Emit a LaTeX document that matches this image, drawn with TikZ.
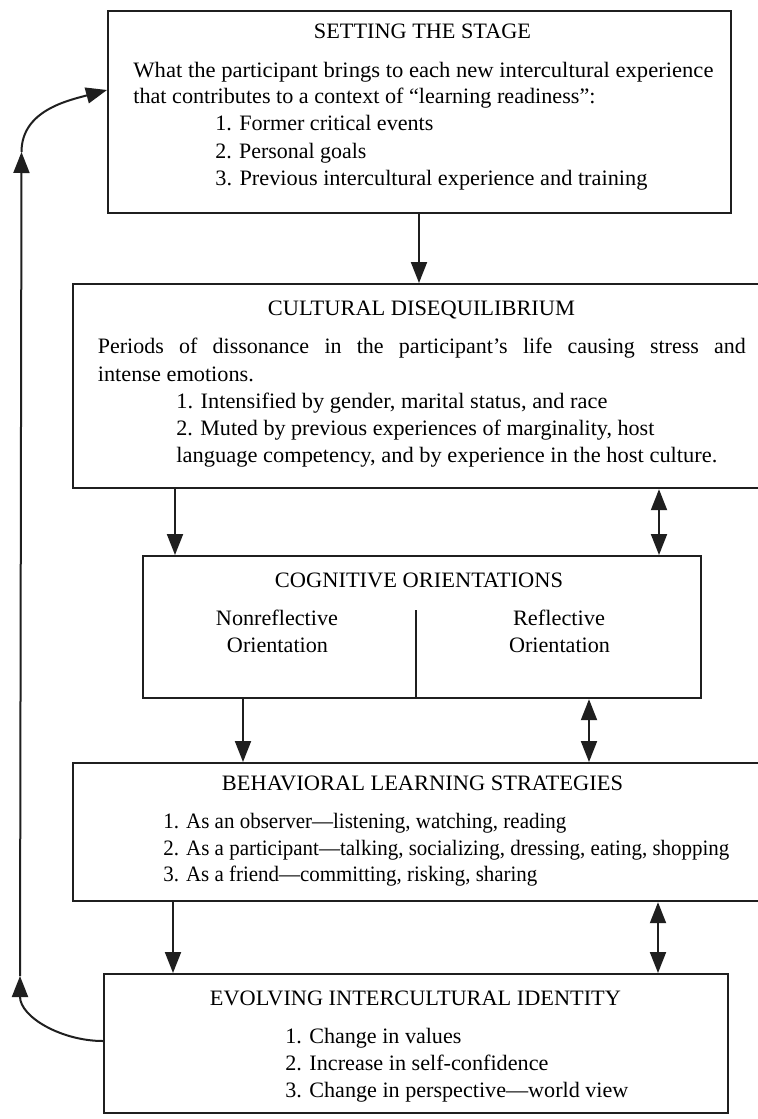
\documentclass[tikz,border=0pt]{standalone}
\usepackage{fontspec}
\usepackage{graphicx}
\setmainfont{Liberation Serif}
\usetikzlibrary{arrows.meta}
\newcommand{\fw}[2]{\resizebox{#1}{\height}{#2}}
\begin{document}
\begin{tikzpicture}[x=0.5pt,y=-0.5pt,
  box/.style={draw=black!88, line width=1.1pt, rectangle, inner sep=0pt, anchor=north west},
  txt/.style={inner sep=0pt, font=\fontsize{11}{13}\selectfont, text height=8pt, text depth=2.5pt, anchor=west},
  ttl/.style={inner sep=0pt, font=\fontsize{11}{13}\selectfont, text height=8pt, text depth=2.5pt},
  arr/.style={draw=black!88, line width=1pt, -{Triangle[length=10.5pt,width=8pt]}},
  darr/.style={draw=black!88, line width=1pt, {Triangle[length=10.5pt,width=8pt]}-{Triangle[length=10.5pt,width=8pt]}},
  divider/.style={draw=black!88, line width=1pt}]
\useasboundingbox (0,0) rectangle (758,1119);
\fill[white] (0,0) rectangle (758,1119);

% boxes
\node[box, minimum width=311.5pt, minimum height=101pt] (box1) at (107,10) {};
\node[box, minimum width=346.5pt, minimum height=102pt] (box2) at (72,283) {};
\node[box, minimum width=279.25pt, minimum height=71pt] (box3) at (141.5,555) {};
\node[box, minimum width=346.5pt, minimum height=69pt] (box4) at (72,762) {};
\node[box, minimum width=312pt, minimum height=69.5pt] (box5) at (103,973) {};

% box 1 text
\node[ttl] (t1) at (422.5,33) {\fw{108.5pt}{SETTING THE STAGE}};
\node[txt] (t1a) at (133,72) {\fw{290pt}{What the participant brings to each new intercultural experience}};
\node[txt] (t1b) at (133,98) {\fw{231pt}{that contributes to a context of “learning readiness”:}};
\node[txt] (t1c) at (215,125) {\fw{109pt}{1. Former critical events}};
\node[txt] (t1d) at (215,153) {\fw{75.5pt}{2. Personal goals}};
\node[txt] (t1e) at (215,180) {\fw{216pt}{3. Previous intercultural experience and training}};

% box 2 text
\node[ttl] (t2) at (421.5,310) {\fw{153.5pt}{CULTURAL DISEQUILIBRIUM}};
\node[txt] (t2a) at (97.5,348) {\makebox[324pt][s]{Periods of dissonance in the participant’s life causing stress and}};
\node[txt] (t2b) at (97.5,376) {\fw{78pt}{intense emotions.}};
\node[txt] (t2c) at (176,403) {\fw{215.5pt}{1. Intensified by gender, marital status, and race}};
\node[txt] (t2d) at (176,430) {\fw{239pt}{2. Muted by previous experiences of marginality, host}};
\node[txt] (t2e) at (176,457) {\fw{270.5pt}{language competency, and by experience in the host culture.}};

% box 3 text
\node[ttl] (t3) at (419,582) {\fw{144pt}{COGNITIVE ORIENTATIONS}};
\node[ttl] (t3a) at (277,620) {\fw{61pt}{Nonreflective}};
\node[ttl] (t3b) at (277.5,647) {\fw{50.5pt}{Orientation}};
\node[ttl] (t3c) at (559,620) {\fw{46pt}{Reflective}};
\node[ttl] (t3d) at (559.5,647) {\fw{50.5pt}{Orientation}};
\coordinate (dv) at (415.5,610);
\draw[divider] (dv) -- (dv |- box3.south);

% box 4 text
\node[ttl] (t4) at (422.5,785) {\fw{200.5pt}{BEHAVIORAL LEARNING STRATEGIES}};
\node[txt] (t4a) at (163,823) {\fw{201.5pt}{1. As an observer—listening, watching, reading}};
\node[txt] (t4b) at (163,850) {\fw{283pt}{2. As a participant—talking, socializing, dressing, eating, shopping}};
\node[txt] (t4c) at (163,876) {\fw{187pt}{3. As a friend—committing, risking, sharing}};

% box 5 text
\node[ttl] (t5) at (415.5,1000) {\fw{205.5pt}{EVOLVING INTERCULTURAL IDENTITY}};
\node[txt] (t5a) at (285,1038) {\fw{88pt}{1. Change in values}};
\node[txt] (t5b) at (285,1065) {\fw{131.5pt}{2. Increase in self-confidence}};
\node[txt] (t5c) at (285,1092) {\fw{171.5pt}{3. Change in perspective—world view}};

% connectors
\coordinate (x1) at (419,0);
\coordinate (x2) at (175,0);
\coordinate (x3) at (659,0);
\coordinate (x4) at (243,0);
\coordinate (x5) at (589,0);
\coordinate (x6) at (173,0);
\coordinate (x7) at (658,0);
\draw[arr] (box1.south -| x1) -- (box2.north -| x1);
\draw[arr] (box2.south -| x2) -- (box3.north -| x2);
\draw[darr] (box2.south -| x3) -- (box3.north -| x3);
\draw[arr] (box3.south -| x4) -- (box4.north -| x4);
\draw[darr] (box3.south -| x5) -- (box4.north -| x5);
\draw[arr] (box4.south -| x6) -- (box5.north -| x6);
\draw[darr] (box4.south -| x7) -- (box5.north -| x7);

% feedback loop
\coordinate (ls) at (103,1041);
\coordinate (l1) at (20,976);
\coordinate (l2) at (21.5,152);
\coordinate (le) at (107,90);
\draw[arr] (box5.west |- ls) to[out=180,in=-90] (l1);
\draw[arr] (l1) -- (l2);
\draw[arr] (l2) to[out=90,in=195] (box1.west |- le);
\end{tikzpicture}
\end{document}
